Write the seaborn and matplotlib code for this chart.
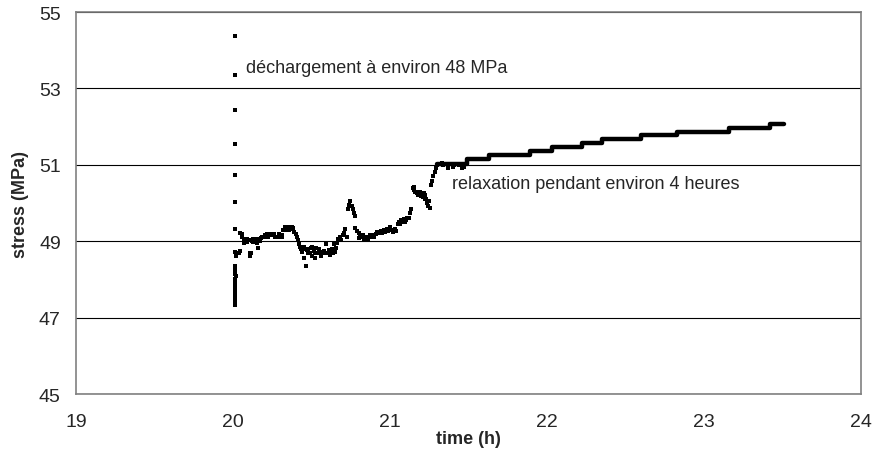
import matplotlib
matplotlib.use("Agg")
import matplotlib.pyplot as plt
import pandas as pd
import seaborn as sns

# unloading + early relaxation readings (time in h, stress in MPa)
time_h = [
    20.010, 20.010, 20.010, 20.010, 20.010, 20.010, 20.010,
    20.010, 20.020, 20.035, 20.045, 20.010, 20.010, 20.012, 20.020, 20.010,
    20.012, 20.015, 20.010, 20.012, 20.010, 20.012, 20.010, 20.010,
    20.045, 20.055, 20.060, 20.070, 20.080, 20.090, 20.100, 20.105, 20.110,
    20.115, 20.120, 20.130, 20.140, 20.150, 20.160, 20.165, 20.175, 20.185,
    20.195, 20.205, 20.215, 20.225, 20.235, 20.245, 20.255, 20.265, 20.275,
    20.285, 20.295, 20.305, 20.315, 20.320, 20.330, 20.340, 20.350, 20.360,
    20.370, 20.380, 20.390, 20.400, 20.405, 20.415, 20.420, 20.425, 20.435,
    20.440, 20.450, 20.455, 20.465, 20.470, 20.480, 20.490, 20.500, 20.505,
    20.515, 20.525, 20.530, 20.540, 20.550, 20.560, 20.570, 20.580, 20.590,
    20.600, 20.610, 20.620, 20.630, 20.640, 20.650, 20.660, 20.670, 20.680,
    20.690, 20.700, 20.710, 20.715, 20.725, 20.735, 20.740, 20.748, 20.755,
    20.762, 20.768, 20.775, 20.780, 20.790, 20.800, 20.810, 20.820, 20.830,
    20.840, 20.850, 20.860, 20.870, 20.880, 20.890, 20.900, 20.910, 20.920,
    20.930, 20.940, 20.950, 20.960, 20.970, 20.980, 20.990, 21.000, 21.010,
    21.020, 21.030, 21.040, 21.050, 21.060, 21.070, 21.080, 21.090, 21.100,
    21.110, 21.120, 21.130, 21.135, 21.145, 21.150, 21.160, 21.170, 21.180,
    21.190, 21.200, 21.210, 21.220, 21.230, 21.235, 21.245, 21.250, 21.255,
    21.260, 21.270, 21.275, 21.285, 21.290, 21.300, 21.310, 21.320, 21.330,
    21.340, 21.350, 21.360, 21.370, 21.380, 21.390, 21.400, 21.410, 21.420,
    21.430, 21.440, 21.450, 21.460, 21.470, 21.480,
    # denser readings inside the clusters
    20.070, 20.090, 20.130, 20.150, 20.170, 20.220, 20.260, 20.290, 20.310,
    20.335, 20.355, 20.375, 20.445, 20.475, 20.495, 20.520, 20.545, 20.565,
    20.595, 20.615, 20.635, 20.655, 20.805, 20.835, 20.865, 21.065, 21.095,
    21.155, 21.175, 21.195, 21.215, 21.225,
]
stress_mpa = [
    54.38, 53.35, 52.43, 51.54, 50.73, 50.03, 49.32,
    48.72, 48.62, 48.70, 48.75, 48.36, 48.25, 48.15, 48.08, 48.00,
    47.90, 47.82, 47.72, 47.62, 47.55, 47.47, 47.40, 47.33,
    49.22, 49.18, 49.10, 49.05, 49.00, 48.98, 49.02, 48.70, 48.62,
    48.68, 49.00, 48.98, 49.05, 49.02, 48.82, 49.05, 49.08, 49.12,
    49.10, 49.15, 49.18, 49.12, 49.20, 49.15, 49.18, 49.10, 49.12,
    49.10, 49.15, 49.10, 49.15, 49.30, 49.36, 49.38, 49.36, 49.38,
    49.32, 49.35, 49.25, 49.20, 49.12, 49.02, 48.92, 48.85, 48.80,
    48.72, 48.85, 48.55, 48.35, 48.78, 48.80, 48.70, 48.85, 48.62,
    48.75, 48.55, 48.82, 48.70, 48.78, 48.62, 48.70, 48.75, 48.92,
    48.70, 48.78, 48.65, 48.80, 48.92, 48.72, 48.95, 49.05, 49.10,
    49.02, 49.15, 49.22, 49.32, 49.10, 49.85, 49.95, 50.05, 49.92,
    49.85, 49.75, 49.65, 49.35, 49.28, 49.22, 49.15, 49.10, 49.15,
    49.08, 49.12, 49.05, 49.15, 49.10, 49.15, 49.12, 49.18, 49.25,
    49.22, 49.28, 49.22, 49.30, 49.25, 49.32, 49.28, 49.38, 49.30,
    49.25, 49.32, 49.28, 49.45, 49.50, 49.55, 49.50, 49.58, 49.55,
    49.60, 49.62, 49.75, 49.85, 50.38, 50.42, 50.30, 50.25, 50.20,
    50.28, 50.20, 50.15, 50.22, 50.10, 50.00, 49.92, 50.05, 49.88,
    50.48, 50.58, 50.70, 50.82, 50.92, 51.00, 51.03, 51.02, 51.05,
    51.00, 51.03, 51.02, 50.92, 51.02, 51.03, 50.95, 51.00, 51.02,
    51.03, 51.00, 51.02, 50.92, 50.95, 51.02,
    48.95, 49.05, 49.05, 48.95, 49.00, 49.10, 49.20, 49.20, 49.10,
    49.30, 49.30, 49.38, 48.80, 48.70, 48.82, 48.68, 48.80, 48.72,
    48.68, 48.72, 48.70, 48.82, 49.08, 49.05, 49.10, 49.45, 49.50,
    50.35, 50.30, 50.18, 50.25, 50.10,
]

# relaxation plateau: start time of each step and its stress level
relax_time_h = [21.30, 21.49, 21.63, 21.89, 22.03, 22.22, 22.35, 22.60,
                22.83, 23.16, 23.42, 23.51]
relax_stress = [51.03, 51.15, 51.26, 51.37, 51.46, 51.57, 51.68, 51.78,
                51.87, 51.96, 52.06, 52.06]

x_ticks = [19, 20, 21, 22, 23, 24]
y_ticks = [45, 47, 49, 51, 53, 55]

sns.set_style("white")
plt.rcParams["font.family"] = ["Liberation Sans", "DejaVu Sans"]

df = pd.DataFrame({"time": time_h, "stress": stress_mpa})
relax = pd.DataFrame({"time": relax_time_h, "stress": relax_stress})

fig = plt.figure(figsize=(8.72, 4.52), dpi=100)
ax = fig.add_axes([0.0872, 0.1261, 0.9002, 0.8451])

sns.scatterplot(data=df, x="time", y="stress", ax=ax, marker="s", s=11,
                color="black", linewidth=0, zorder=3)
sns.lineplot(data=relax, x="time", y="stress", ax=ax, color="black",
             linewidth=3.2, drawstyle="steps-post", estimator=None,
             sort=False, zorder=3)

ax.set_xlim(19, 24)
ax.set_ylim(45, 55)
ax.set_xticks(x_ticks)
ax.set_yticks(y_ticks)
ax.yaxis.grid(True, color="black", linewidth=0.8)
ax.set_axisbelow(True)

for sp in ax.spines.values():
    sp.set_color("#808080")
    sp.set_linewidth(1.2)

ax.tick_params(axis="both", direction="out", length=5, width=1,
               color="#808080", labelsize=14)
ax.tick_params(axis="y", pad=6)
ax.tick_params(axis="x", pad=9)

ax.set_xlabel("time (h)", fontsize=13, fontweight="bold", labelpad=0)
ax.set_ylabel("stress (MPa)", fontsize=13, fontweight="bold", labelpad=7)

ax.text(20.083, 53.56, "déchargement à environ 48 MPa", fontsize=13,
        va="center", ha="left")
ax.text(21.395, 50.50, "relaxation pendant environ 4 heures", fontsize=13,
        va="center", ha="left")

fig.savefig("out.png", dpi=100)
